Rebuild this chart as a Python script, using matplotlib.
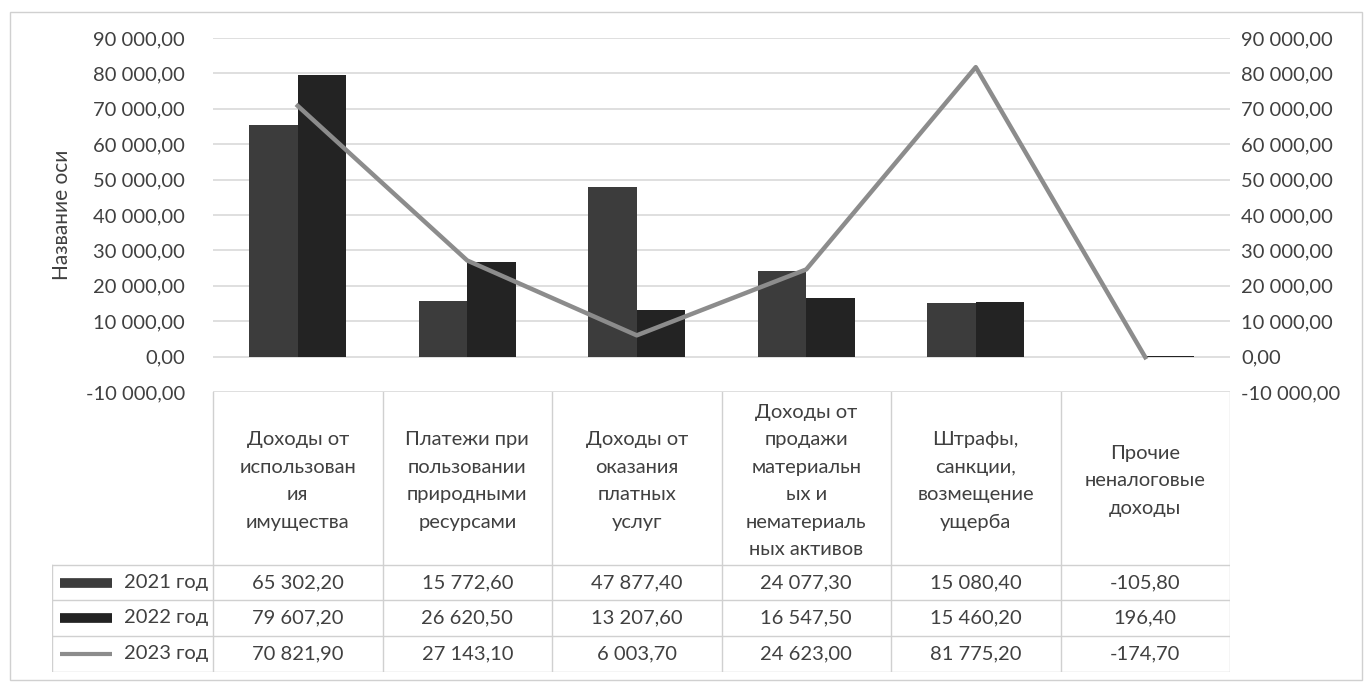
import numpy as np
import matplotlib.pyplot as plt
from matplotlib.patches import Rectangle
from matplotlib.lines import Line2D

plt.rcParams['font.family'] = ['Lato', 'DejaVu Sans']

categories = [
    "Доходы от\nиспользован\nия\nимущества",
    "Платежи при\nпользовании\nприродными\nресурсами",
    "Доходы от\nоказания\nплатных\nуслуг",
    "Доходы от\nпродажи\nматериальн\nых и\nнематериаль\nных активов",
    "Штрафы,\nсанкции,\nвозмещение\nущерба",
    "Прочие\nненалоговые\nдоходы",
]
series_names = ["2021 год", "2022 год", "2023 год"]
v2021 = [65302.20, 15772.60, 47877.40, 24077.30, 15080.40, -105.80]
v2022 = [79607.20, 26620.50, 13207.60, 16547.50, 15460.20, 196.40]
v2023 = [70821.90, 27143.10, 6003.70, 24623.00, 81775.20, -174.70]

c21 = "#3c3c3c"
c22 = "#232323"
c23 = "#8c8c8c"
txt = "#404040"
grid_c = "#d9d9d9"
fs = 14.5


def fmt(v):
    return f"{v:,.2f}".replace(",", " ").replace(".", ",")


W, H = 1369, 685
fig = plt.figure(figsize=(W / 100, H / 100), dpi=100)

# outer chart border
fig.patches.append(Rectangle((10 / W, 1 - 680 / H), 1352 / W, 668 / H,
                             transform=fig.transFigure, fill=False,
                             edgecolor="#d0d0d0", lw=1))

x0, x1 = 213, 1230
ytop, ybot = 38, 392
ax = fig.add_axes([x0 / W, 1 - ybot / H, (x1 - x0) / W, (ybot - ytop) / H])
x = np.arange(len(categories))
bw = 0.285
ax.bar(x - bw / 2, v2021, bw, color=c21, zorder=3)
ax.bar(x + bw / 2, v2022, bw, color=c22, zorder=3)
ax.set_xlim(-0.5, len(categories) - 0.5)
ax.set_ylim(-10000, 90000)
yt = np.arange(-10000, 90001, 10000)
ax.set_yticks(yt)
ax.set_yticklabels([fmt(t) for t in yt], fontsize=fs, color=txt)
ax.tick_params(length=0, pad=20)
ax.set_xticks([])
ax.grid(axis="y", color=grid_c, lw=1.2, zorder=0)
for s in ax.spines.values():
    s.set_visible(False)
ax.set_ylabel("Название оси", fontsize=15, color=txt, labelpad=10)

ax2 = ax.twinx()
ax2.plot(x, v2023, color=c23, lw=3.2, zorder=4)
ax2.set_ylim(-10000, 90000)
ax2.set_yticks(yt)
ax2.set_yticklabels([fmt(t) for t in yt], fontsize=fs, color=txt)
ax2.tick_params(length=0, pad=8)
for s in ax2.spines.values():
    s.set_visible(False)

# data table below the plot
cw = (x1 - x0) / len(categories)
lx = -0.5 - (x0 - 52) / cw
tab = fig.add_axes([52 / W, 1 - 672 / H, (x1 - 52) / W, (672 - ybot) / H])
tab.set_xlim(lx, len(categories) - 0.5)
tab.set_ylim(672, ybot)
tab.axis("off")

rows = [565, 600, 636, 672]
tc = "#d0d0d0"
for b in np.arange(-0.5, len(categories), 1.0):
    tab.plot([b, b], [ybot, 672], color=tc, lw=1)
tab.plot([lx, lx], [rows[0], 672], color=tc, lw=1)
for r in rows:
    tab.plot([lx, len(categories) - 0.5], [r, r], color=tc, lw=1)

for i, c in enumerate(categories):
    tab.text(i, 481, c, ha="center", va="center", fontsize=fs,
             color=txt, linespacing=1.75)

all_vals = [v2021, v2022, v2023]
for j, (name, vals) in enumerate(zip(series_names, all_vals)):
    yc = (rows[j] + rows[j + 1]) / 2
    for i, v in enumerate(vals):
        tab.text(i, yc, fmt(v), ha="center", va="center", fontsize=fs,
                 color=txt)
    tab.text(-0.53, yc, name, ha="right", va="center", fontsize=fs,
             color=txt)

# legend keys
kx0 = lx + 8 / cw
kx1 = lx + 60 / cw
for j, (col, lw) in enumerate([(c21, 7), (c22, 7), (c23, 3)]):
    yc = (rows[j] + rows[j + 1]) / 2
    tab.add_line(Line2D([kx0, kx1], [yc, yc], color=col, lw=lw,
                        solid_capstyle="butt"))

fig.savefig("out.png", dpi=100)
